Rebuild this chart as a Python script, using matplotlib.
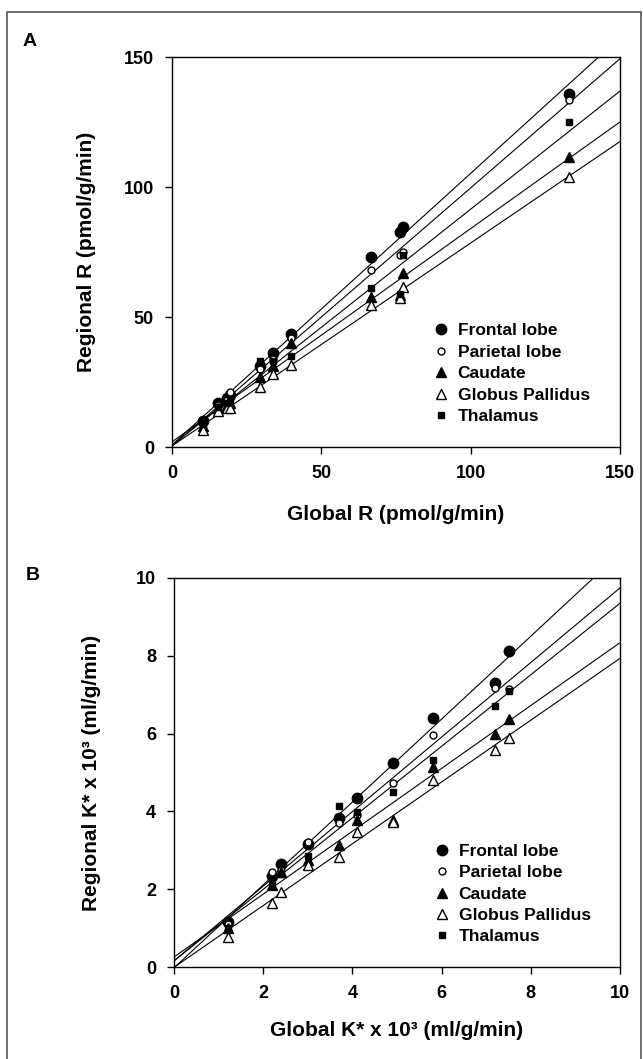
import numpy as np
import matplotlib
matplotlib.use("Agg")
import matplotlib.pyplot as plt
from matplotlib.lines import Line2D
from matplotlib.patches import Rectangle

plt.rcParams['font.family'] = ['Liberation Sans', 'DejaVu Sans']
plt.rcParams['font.weight'] = 'bold'

regions = ["Frontal lobe", "Parietal lobe", "Caudate", "Globus Pallidus", "Thalamus"]

# Panel A: global R (pmol/g/min) per subject and regional R per region
global_R = [10.4, 15.5, 18.4, 19.4, 29.5, 33.9, 40.0, 66.6, 76.3, 77.4, 133.0]
R_frontal = [10.0, 17.0, 19.0, 20.0, 31.0, 36.0, 43.5, 73.0, 82.7, 84.6, 135.8]
R_parietal = [9.0, 16.0, 18.0, 21.0, 30.0, 34.0, 42.0, 68.0, 74.0, 75.0, 133.5]
R_caudate = [8.0, 15.0, 16.0, 17.0, 27.0, 31.0, 40.0, 57.7, 58.5, 67.0, 111.5]
R_gp = [6.5, 14.0, 15.0, 15.0, 23.0, 28.0, 31.5, 54.6, 57.5, 61.5, 104.0]
R_thalamus = [9.0, 15.5, 17.0, 18.0, 33.0, 33.0, 35.0, 61.0, 59.0, 74.0, 125.0]

# Panel B: global K* x 10^3 (ml/g/min) per subject and regional K*
global_K = [1.2, 2.2, 2.4, 3.0, 3.7, 4.1, 4.9, 5.8, 7.2, 7.5]
K_frontal = [1.15, 2.35, 2.65, 3.15, 3.83, 4.34, 5.25, 6.40, 7.30, 8.12]
K_parietal = [1.10, 2.44, 2.50, 3.21, 3.70, 3.90, 4.73, 5.96, 7.17, 7.15]
K_caudate = [1.00, 2.10, 2.45, 2.75, 3.14, 3.78, 3.78, 5.14, 6.00, 6.37]
K_gp = [0.77, 1.65, 1.93, 2.62, 2.83, 3.47, 3.72, 4.82, 5.58, 5.88]
K_thalamus = [1.00, 2.20, 2.40, 2.85, 4.14, 3.98, 4.50, 5.32, 6.70, 7.10]

markers = [dict(marker='o', mfc='black', mec='black', ms=7.5),
           dict(marker='o', mfc='white', mec='black', ms=5.0, mew=1.0),
           dict(marker='^', mfc='black', mec='black', ms=7.0),
           dict(marker='^', mfc='white', mec='black', ms=7.0, mew=1.0),
           dict(marker='s', mfc='black', mec='black', ms=5.0)]

fig = plt.figure(figsize=(6.43, 10.59), dpi=100)

W, H = 643, 1059
def axrect(l, r, t, b):
    return [l / W, 1 - b / H, (r - l) / W, (b - t) / H]

axA = fig.add_axes(axrect(172, 620, 57, 447))
axB = fig.add_axes(axrect(174, 620, 578, 967))

def draw(ax, gx, series, xmax, ymax, ticks, xlabel, ylabel, leg_y, xlab_y, ylab_x):
    gx = np.array(gx)
    handles = []
    for vals, mk, name in zip(series, markers, regions):
        vals = np.array(vals)
        slope, icpt = np.polyfit(gx, vals, 1)
        xs = np.array([0, xmax])
        ax.plot(xs, slope * xs + icpt, color='black', lw=0.8, zorder=2)
    for vals, mk, name in zip(series, markers, regions):
        ax.plot(gx, vals, linestyle='none', zorder=3, **mk)
        handles.append(Line2D([], [], linestyle='none', label=name, **mk))
    ax.set_xlim(0, xmax)
    ax.set_ylim(0, ymax)
    ax.set_xticks(ticks[0])
    ax.set_yticks(ticks[1])
    ax.tick_params(direction='out', length=5, width=1.0, labelsize=13, pad=8)
    for lbl in ax.get_xticklabels() + ax.get_yticklabels():
        lbl.set_fontweight('bold')
    for sp in ax.spines.values():
        sp.set_linewidth(1.0)
    ax.set_xlabel(xlabel, fontsize=15, fontweight='bold', va='center')
    ax.set_ylabel(ylabel, fontsize=15, fontweight='bold', va='center')
    ax.xaxis.set_label_coords(0.5, xlab_y)
    ax.yaxis.set_label_coords(ylab_x, 0.5)
    leg = ax.legend(handles=handles, loc='upper left', bbox_to_anchor=(0.57, leg_y),
                    frameon=False, handlelength=0.8, handletextpad=0.55,
                    labelspacing=0.36, borderaxespad=0,
                    prop=dict(size=12.5, weight='bold'))
    return leg

draw(axA, global_R, [R_frontal, R_parietal, R_caudate, R_gp, R_thalamus], 150, 150,
     ([0, 50, 100, 150], [0, 50, 100, 150]),
     "Global R (pmol/g/min)", "Regional R (pmol/g/min)", 0.335, -0.174, -0.19)
draw(axB, global_K, [K_frontal, K_parietal, K_caudate, K_gp, K_thalamus], 10, 10,
     ([0, 2, 4, 6, 8, 10], [0, 2, 4, 6, 8, 10]),
     "Global K* x 10³ (ml/g/min)", "Regional K* x 10³ (ml/g/min)", 0.335, -0.162, -0.185)

fig.text(30 / W, 1 - 42 / H, "A", fontsize=14, fontweight='bold', ha='center', va='center')
fig.text(33 / W, 1 - 575 / H, "B", fontsize=14, fontweight='bold', ha='center', va='center')

fig.patches.append(Rectangle((7 / W, -0.02), (641 - 7) / W, 1 - 12 / H + 0.02,
                             transform=fig.transFigure, fill=False,
                             edgecolor='#555555', lw=1.2))

fig.savefig("out.png", dpi=100)
